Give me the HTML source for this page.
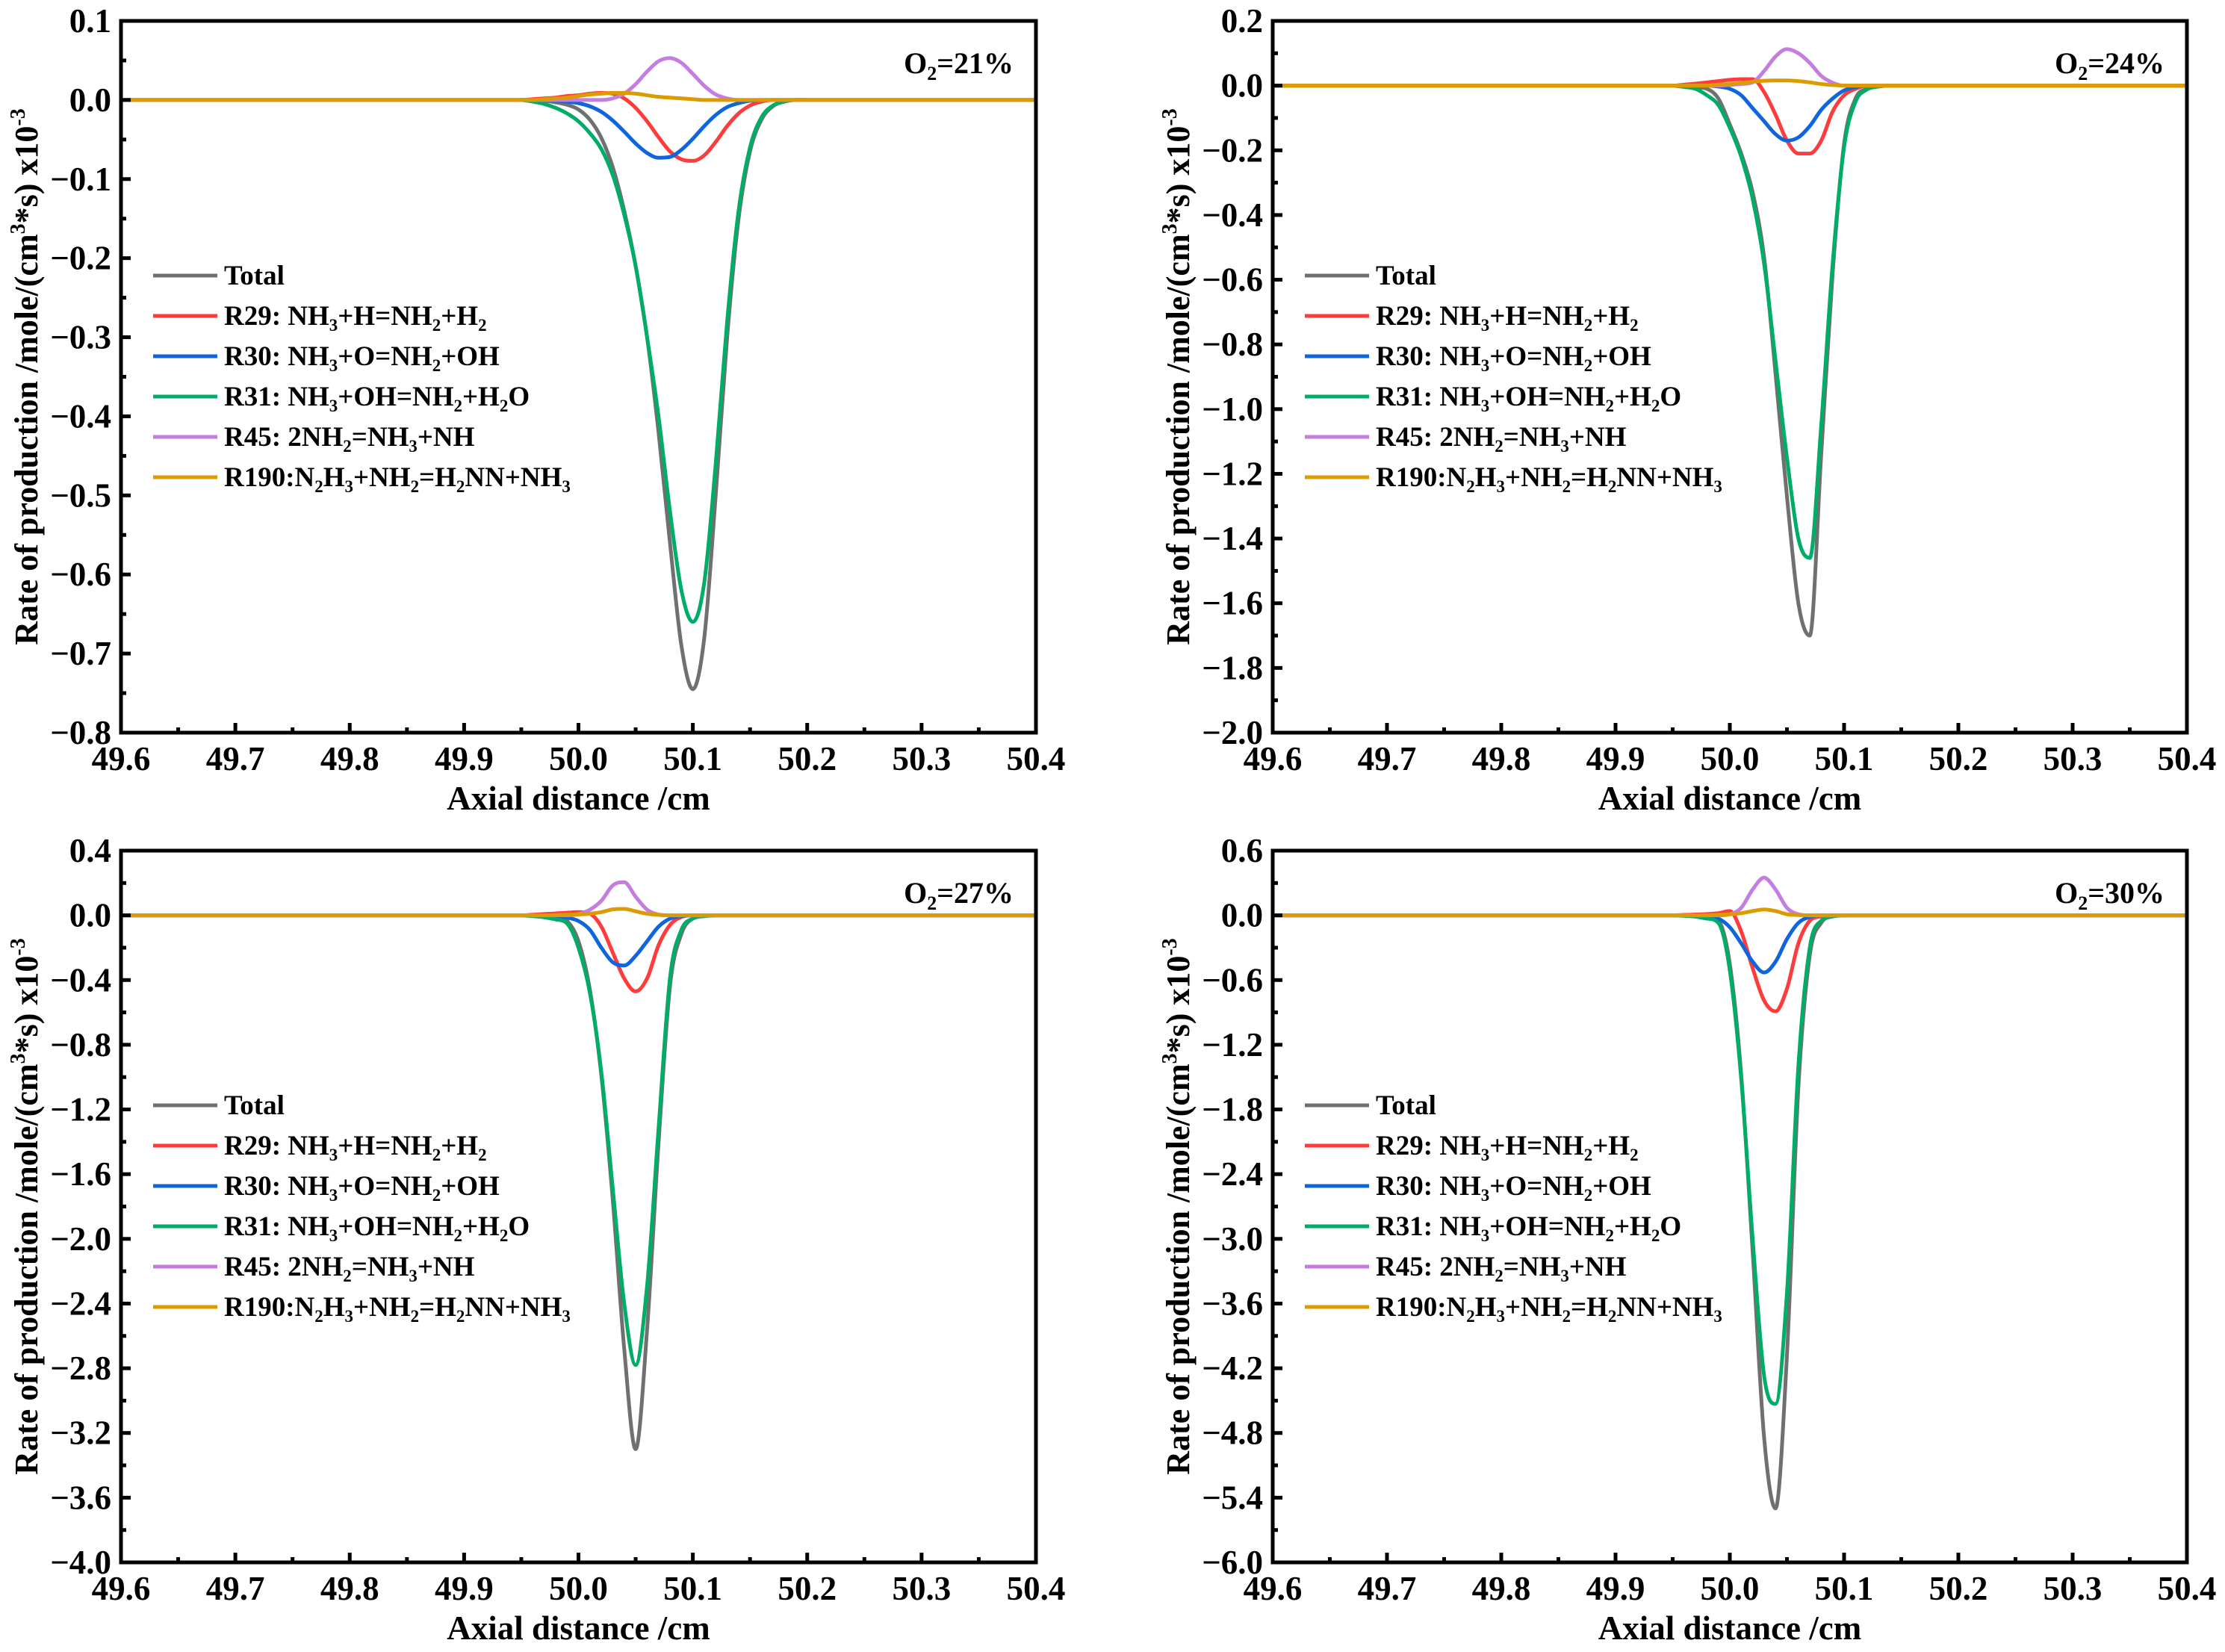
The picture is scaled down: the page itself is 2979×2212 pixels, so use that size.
<!DOCTYPE html>
<html><head><meta charset="utf-8"><style>
html,body{margin:0;padding:0;background:#fff}
svg{display:block}
svg text{font-family:"Liberation Serif","DejaVu Serif","Times New Roman",Times,serif;font-weight:bold;fill:#000}
</style></head><body>
<svg id="chart" xmlns="http://www.w3.org/2000/svg" width="2979" height="2212" viewBox="0 0 2979 2212" font-family="Liberation Serif, DejaVu Serif, serif" font-weight="bold"></svg>
<script>
// ---------- Panel data ----------
const p1X = [49.95,49.96,49.97,49.98,49.99,50.00,50.01,50.02,50.03,50.04,50.05,50.06,50.07,50.08,50.09,50.10,50.11,50.12,50.13,50.14,50.15,50.16,50.17,50.18,50.19,50.20];
const p1Total = [0,0,-0.001,-0.003,-0.006,-0.012,-0.025,-0.048,-0.085,-0.14,-0.21,-0.30,-0.42,-0.56,-0.69,-0.745,-0.68,-0.50,-0.30,-0.15,-0.065,-0.025,-0.008,-0.002,0,0];
const p1R29 = [0,0.001,0.002,0.003,0.005,0.006,0.008,0.009,0.008,0.002,-0.01,-0.027,-0.047,-0.065,-0.075,-0.077,-0.07,-0.053,-0.033,-0.017,-0.007,-0.002,0,0,0,0];
const p1R30 = [0,0,0,-0.001,-0.002,-0.004,-0.008,-0.015,-0.026,-0.04,-0.055,-0.067,-0.073,-0.072,-0.063,-0.049,-0.033,-0.019,-0.009,-0.004,-0.001,0,0,0,0,0];
const p1R31 = [0,-0.002,-0.005,-0.01,-0.017,-0.027,-0.042,-0.062,-0.095,-0.145,-0.21,-0.30,-0.40,-0.52,-0.62,-0.66,-0.61,-0.46,-0.28,-0.14,-0.06,-0.022,-0.007,-0.002,0,0];
const p1R45 = [0,0,0,0,0,0,0,0,0.002,0.008,0.02,0.036,0.049,0.053,0.047,0.033,0.018,0.007,0.002,0,0,0,0,0,0,0];
const p1R190 = [0,0,0.001,0.002,0.003,0.005,0.007,0.008,0.009,0.009,0.008,0.006,0.004,0.003,0.002,0.001,0,0,0,0,0,0,0,0,0,0];

const p2X = [49.95,49.96,49.97,49.98,49.99,50.00,50.01,50.02,50.03,50.04,50.05,50.06,50.07,50.08,50.09,50.10,50.11,50.12,50.13,50.14,50.15];
const p2Total = [0,-0.002,-0.005,-0.01,-0.04,-0.12,-0.21,-0.33,-0.53,-0.89,-1.27,-1.60,-1.70,-1.14,-0.58,-0.18,-0.04,-0.01,0,0,0];
const p2R29 = [0,0.003,0.006,0.01,0.014,0.018,0.02,0.02,-0.02,-0.09,-0.17,-0.21,-0.21,-0.17,-0.08,-0.03,-0.01,0,0,0,0];
const p2R30 = [0,0,0,0,-0.003,-0.01,-0.03,-0.07,-0.11,-0.15,-0.17,-0.16,-0.125,-0.075,-0.04,-0.015,-0.005,0,0,0,0];
const p2R31 = [0,-0.004,-0.01,-0.03,-0.06,-0.13,-0.22,-0.35,-0.55,-0.85,-1.15,-1.40,-1.46,-1.05,-0.55,-0.19,-0.05,-0.012,-0.003,0,0];
const p2R45 = [0,0,0,0,0,0.002,0.005,0.01,0.045,0.09,0.113,0.10,0.07,0.03,0.009,0,0,0,0,0,0];
const p2R190 = [0,0,0,0,0.003,0.005,0.008,0.012,0.015,0.016,0.016,0.014,0.01,0.005,0.002,0,0,0,0,0,0];

const p3X = [49.95,49.96,49.97,49.98,49.99,50.00,50.01,50.02,50.03,50.04,50.05,50.06,50.07,50.08,50.09,50.10,50.11,50.12];
const p3Total = [0,-0.002,-0.005,-0.012,-0.035,-0.16,-0.46,-0.99,-1.76,-2.68,-3.30,-2.56,-1.41,-0.44,-0.115,-0.02,-0.005,0];
const p3R29 = [0,0.004,0.008,0.012,0.016,0.02,0.01,-0.07,-0.23,-0.39,-0.47,-0.39,-0.185,-0.06,-0.01,0,0,0];
const p3R30 = [0,0,0,-0.004,-0.014,-0.035,-0.09,-0.2,-0.29,-0.31,-0.25,-0.16,-0.07,-0.02,-0.005,0,0,0];
const p3R31 = [0,-0.005,-0.012,-0.025,-0.05,-0.2,-0.48,-0.97,-1.69,-2.4,-2.78,-2.29,-1.32,-0.39,-0.09,-0.02,-0.004,0];
const p3R45 = [0,0,0,0,0,0.008,0.035,0.09,0.185,0.205,0.115,0.035,0.005,0,0,0,0,0];
const p3R190 = [0,0,0,0.002,0.004,0.006,0.01,0.02,0.037,0.04,0.025,0.01,0.003,0,0,0,0,0];

const p4X = [49.95,49.96,49.97,49.98,49.99,50.00,50.01,50.02,50.03,50.04,50.05,50.06,50.07,50.08,50.09,50.10,50.11,50.12];
const p4Total = [0,-0.003,-0.008,-0.02,-0.05,-0.45,-1.48,-3.12,-4.84,-5.50,-4.08,-1.60,-0.37,-0.07,-0.01,0,0,0];
const p4R29 = [0,0.004,0.008,0.012,0.02,0.04,-0.15,-0.49,-0.79,-0.89,-0.68,-0.26,-0.05,-0.01,0,0,0,0];
const p4R30 = [0,0,-0.002,-0.01,-0.03,-0.11,-0.26,-0.43,-0.53,-0.43,-0.22,-0.07,-0.015,0,0,0,0,0];
const p4R31 = [0,-0.005,-0.012,-0.03,-0.07,-0.51,-1.52,-3.0,-4.27,-4.53,-3.5,-1.4,-0.3,-0.05,-0.01,0,0,0];
const p4R45 = [0,0,0,0,0,0.01,0.07,0.24,0.35,0.24,0.07,0.01,0,0,0,0,0,0];
const p4R190 = [0,0,0,0.002,0.005,0.01,0.02,0.04,0.055,0.04,0.01,0.003,0,0,0,0,0,0];

const xTickLabels = ["49.6","49.7","49.8","49.9","50.0","50.1","50.2","50.3","50.4"];
const p1YTicks = [0.1,0,-0.1,-0.2,-0.3,-0.4,-0.5,-0.6,-0.7,-0.8];
const p2YTicks = [0.2,0,-0.2,-0.4,-0.6,-0.8,-1.0,-1.2,-1.4,-1.6,-1.8,-2.0];
const p3YTicks = [0.4,0,-0.4,-0.8,-1.2,-1.6,-2.0,-2.4,-2.8,-3.2,-3.6,-4.0];
const p4YTicks = [0.6,0,-0.6,-1.2,-1.8,-2.4,-3.0,-3.6,-4.2,-4.8,-5.4,-6.0];
const panelLabels = ["21%","24%","27%","30%"];
const seriesNames = ["Total","R29","R30","R31","R45","R190"];
const seriesColors = ["#707070","#ff3c3c","#0f66dc","#00ad66","#c47ee0","#dc9b00"];
const legendTexts = [
  "Total",
  "R29: NH_3+H=NH_2+H_2",
  "R30: NH_3+O=NH_2+OH",
  "R31: NH_3+OH=NH_2+H_2O",
  "R45: 2NH_2=NH_3+NH",
  "R190:N_2H_3+NH_2=H_2NN+NH_3"
];

const panels = [
  {x0:162,x1:1387,y0:28,y1:981,ymin:-0.8,ymax:0.1,ticks:p1YTicks,dec:1,X:p1X,S:[p1Total,p1R29,p1R30,p1R31,p1R45,p1R190],ylx:36},
  {x0:1704,x1:2928,y0:28,y1:981,ymin:-2.0,ymax:0.2,ticks:p2YTicks,dec:1,X:p2X,S:[p2Total,p2R29,p2R30,p2R31,p2R45,p2R190],ylx:1578},
  {x0:162,x1:1387,y0:1139,y1:2092,ymin:-4.0,ymax:0.4,ticks:p3YTicks,dec:1,X:p3X,S:[p3Total,p3R29,p3R30,p3R31,p3R45,p3R190],ylx:36},
  {x0:1704,x1:2928,y0:1139,y1:2092,ymin:-6.0,ymax:0.6,ticks:p4YTicks,dec:1,X:p4X,S:[p4Total,p4R29,p4R30,p4R31,p4R45,p4R190],ylx:1578}
];
const XMIN=49.6, XMAX=50.4;
const NS="http://www.w3.org/2000/svg";
const svg=document.getElementById('chart');
function mk(tag,attrs,parent){const e=document.createElementNS(NS,tag);for(const k in attrs)e.setAttribute(k,attrs[k]);(parent||svg).appendChild(e);return e;}
function fmt(v,d){const s=Math.abs(v).toFixed(d);return (v<-1e-9?"\u2212":"")+s;}
function subMarkup(s,fs){
  return s.replace(/_(\d)/g,(m,d)=>`<tspan font-size="${fs*0.62}" dy="${fs*0.22}">${d}</tspan><tspan dy="${-fs*0.22}">\u200B</tspan>`);
}
function monoPath(px,py){
  const n=px.length;if(n<2)return"";
  const d=[],m=new Array(n);
  for(let i=0;i<n-1;i++)d.push((py[i+1]-py[i])/(px[i+1]-px[i]));
  m[0]=d[0];m[n-1]=d[n-2];
  for(let i=1;i<n-1;i++){m[i]=(d[i-1]*d[i]<=0)?0:(d[i-1]+d[i])/2;}
  for(let i=0;i<n-1;i++){
    if(d[i]===0){m[i]=0;m[i+1]=0;continue;}
    const a=m[i]/d[i],b=m[i+1]/d[i],h=a*a+b*b;
    if(h>9){const t=3/Math.sqrt(h);m[i]=t*a*d[i];m[i+1]=t*b*d[i];}
  }
  let p=`M${px[0].toFixed(2)},${py[0].toFixed(2)}`;
  for(let i=0;i<n-1;i++){
    const h=(px[i+1]-px[i])/3;
    p+=`C${(px[i]+h).toFixed(2)},${(py[i]+m[i]*h).toFixed(2)} ${(px[i+1]-h).toFixed(2)},${(py[i+1]-m[i+1]*h).toFixed(2)} ${px[i+1].toFixed(2)},${py[i+1].toFixed(2)}`;
  }
  return p;
}

panels.forEach((P,pi)=>{
  const g=mk('g',{});
  
  
  const sx=v=>P.x0+(v-XMIN)/(XMAX-XMIN)*(P.x1-P.x0);
  const sy=v=>P.y1-(v-P.ymin)/(P.ymax-P.ymin)*(P.y1-P.y0);
  const sg=mk('g',{},g);
  
  
  P.S.forEach((vals,si)=>{
    let xs=P.X.slice(), ys=vals.slice();
    if(si!==3){xs=[XMIN].concat(xs,[XMAX]);ys=[0].concat(ys,[0]);}
    const px=xs.map(sx), py=ys.map(sy);
    const path=mk('path',{d:monoPath(px,py),fill:'none',stroke:seriesColors[si],'stroke-width':5,'stroke-linejoin':'round'},sg);
    
    
  });
  const fr=mk('rect',{x:P.x0,y:P.y0,width:P.x1-P.x0,height:P.y1-P.y0,fill:'none',stroke:'#000','stroke-width':5},g);
  
  
  const xg=mk('g',{},g);
  
  
  xTickLabels.forEach((lab,i)=>{
    const v=parseFloat(lab),X=sx(v);
    mk('line',{x1:X,x2:X,y1:P.y1,y2:P.y1-13,stroke:'#000','stroke-width':5},xg);
    if(i<xTickLabels.length-1){const Xm=sx(v+0.05);mk('line',{x1:Xm,x2:Xm,y1:P.y1,y2:P.y1-7,stroke:'#000','stroke-width':5},xg);}
    const t=mk('text',{x:X,y:P.y1+50,'text-anchor':'middle','font-size':45},xg);
    t.textContent=lab;
    
    
  });
  const xt=mk('text',{x:(P.x0+P.x1)/2,y:P.y1+103,'text-anchor':'middle','font-size':45},g);
  xt.textContent="Axial distance /cm";
  
  
  const yg=mk('g',{},g);
  
  
  const step=P.ticks[0]-P.ticks[1];
  P.ticks.forEach((v,i)=>{
    const Y=sy(v);
    mk('line',{x1:P.x0,x2:P.x0+13,y1:Y,y2:Y,stroke:'#000','stroke-width':5},yg);
    if(i<P.ticks.length-1){const Ym=sy(v-step/2);mk('line',{x1:P.x0,x2:P.x0+7,y1:Ym,y2:Ym,stroke:'#000','stroke-width':5},yg);}
    const t=mk('text',{x:P.x0-13,y:Y+15,'text-anchor':'end','font-size':45},yg);
    t.textContent=fmt(v,P.dec);
    
    
  });
  const yc=(P.y0+P.y1)/2;
  const yt=mk('text',{x:P.ylx,y:yc,'text-anchor':'middle','font-size':44,transform:`rotate(-90 ${P.ylx} ${yc})`,dy:14},g);
  yt.innerHTML='Rate of production /mole/(cm<tspan font-size="28" dy="-17">3</tspan><tspan dy="17">*s) x10</tspan><tspan font-size="28" dy="-17">-3</tspan>';
  
  
  const ol=mk('text',{x:P.x1-30,y:P.y0+70,'text-anchor':'end','font-size':40},g);
  ol.innerHTML='O<tspan font-size="26" dy="9">2</tspan><tspan dy="-9">='+panelLabels[pi]+'</tspan>';
  
  
  const lg=mk('g',{},g);
  
  
  legendTexts.forEach((s,i)=>{
    const Y=P.y0+341+54*i, lx=P.x0+43;
    const e=mk('g',{},lg);
    
    
    mk('line',{x1:lx,x2:lx+86,y1:Y,y2:Y,stroke:seriesColors[i],'stroke-width':5},e);
    const t=mk('text',{x:lx+95,y:Y+12,'font-size':37},e);
    t.innerHTML=subMarkup(s,37);
  });
});
</script>
</body></html>
